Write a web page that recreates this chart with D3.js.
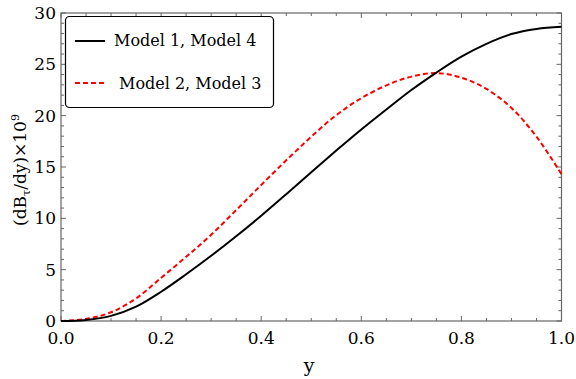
<!DOCTYPE html>
<head>
	<meta charset="utf-8">
	<script type="text/javascript" src="https://cdn.jsdelivr.net/npm/d3@7"></script>
	<style>
		body { margin: 0; background: #fff; }
		text { font-family: "DejaVu Serif", serif; }
	</style>
</head>
<body>
	<script type="text/javascript">

	// values
	var ys = [0, 0.05, 0.1, 0.15, 0.2, 0.25, 0.3, 0.35, 0.4, 0.45, 0.5,
		0.55, 0.6, 0.65, 0.7, 0.75, 0.8, 0.85, 0.9, 0.95, 1.0];
	var model14 = [0, 0.1, 0.5, 1.4, 2.85, 4.55, 6.35, 8.25, 10.25, 12.35, 14.5,
		16.6, 18.65, 20.6, 22.5, 24.2, 25.75, 27.0, 27.95, 28.45, 28.65];
	var model23 = [0, 0.2, 0.85, 2.2, 4.2, 6.25, 8.4, 10.8, 13.25, 15.65, 17.95,
		20.05, 21.7, 22.95, 23.8, 24.15, 23.7, 22.6, 20.75, 17.95, 14.3];
	var xTicks = [0, 0.2, 0.4, 0.6, 0.8, 1.0];
	var yTicks = [0, 5, 10, 15, 20, 25, 30];
	var legendLabels = ["Model 1, Model 4", "Model 2, Model 3"];

	var w = 576;
	var h = 379;
	var pLeft = 61, pRight = 561.5, pTop = 13, pBottom = 321;

	var svg = d3.select("body")
	.append("svg")
	.attr("width", w)
	.attr("height", h);

	var xscale = d3.scaleLinear()
	.domain([0, 1])
	.range([pLeft, pRight]);

	var yscale = d3.scaleLinear()
	.domain([0, 30])
	.range([pBottom, pTop]);

	var frameColor = "#666";

	// ticks: major + minor, on all four sides, pointing in
	var xMinor = d3.range(0, 1.0001, 0.05);
	var yMinor = d3.range(0, 30.001, 1);

	function tickLen(isMajor) { return isMajor ? 5 : 3; }
	function isXMajor(v) { return Math.abs(v * 5 - Math.round(v * 5)) < 1e-6; }
	function isYMajor(v) { return v % 5 === 0; }

	var ticks = svg.append("g").attr("stroke", frameColor).attr("stroke-width", 1);

	ticks.selectAll(".xb").data(xMinor).enter().append("line")
	.attr("x1", function(d){ return xscale(d); })
	.attr("x2", function(d){ return xscale(d); })
	.attr("y1", pBottom)
	.attr("y2", function(d){ return pBottom - tickLen(isXMajor(d)); });

	ticks.selectAll(".xt").data(xMinor).enter().append("line")
	.attr("x1", function(d){ return xscale(d); })
	.attr("x2", function(d){ return xscale(d); })
	.attr("y1", pTop)
	.attr("y2", function(d){ return pTop + tickLen(isXMajor(d)); });

	ticks.selectAll(".yl").data(yMinor).enter().append("line")
	.attr("y1", function(d){ return yscale(d); })
	.attr("y2", function(d){ return yscale(d); })
	.attr("x1", pLeft)
	.attr("x2", function(d){ return pLeft + tickLen(isYMajor(d)); });

	ticks.selectAll(".yr").data(yMinor).enter().append("line")
	.attr("y1", function(d){ return yscale(d); })
	.attr("y2", function(d){ return yscale(d); })
	.attr("x1", pRight)
	.attr("x2", function(d){ return pRight - tickLen(isYMajor(d)); });

	svg.append("rect")
	.attr("x", pLeft)
	.attr("y", pTop)
	.attr("width", pRight - pLeft)
	.attr("height", pBottom - pTop)
	.attr("fill", "none")
	.attr("stroke", frameColor)
	.attr("stroke-width", 1.2);

	// tick labels
	svg.selectAll(".xlab").data(xTicks).enter().append("text")
	.text(function(d){ return d.toFixed(1); })
	.attr("x", function(d){ return xscale(d); })
	.attr("y", 344)
	.attr("text-anchor", "middle")
	.attr("font-size", "17px")
	.attr("fill", "#000");

	svg.selectAll(".ylab").data(yTicks).enter().append("text")
	.text(function(d){ return d; })
	.attr("x", pLeft - 5)
	.attr("y", function(d){ return yscale(d) + 6; })
	.attr("text-anchor", "end")
	.attr("font-size", "17px")
	.attr("fill", "#000");

	// axis titles
	svg.append("text")
	.text("y")
	.attr("x", 309)
	.attr("y", 372)
	.attr("text-anchor", "middle")
	.attr("font-size", "19px");

	var ylab = svg.append("text")
	.attr("transform", "translate(26,170) rotate(-90)")
	.attr("text-anchor", "middle")
	.attr("font-size", "17px");
	ylab.append("tspan").text("(dB");
	ylab.append("tspan").text("τ").attr("font-size", "11px").attr("dy", 4);
	ylab.append("tspan").text("/dy)×10").attr("dy", -4);
	ylab.append("tspan").text("9").attr("font-size", "11px").attr("dy", -7);

	// curves
	var line = d3.line()
	.x(function(d){ return xscale(d[0]); })
	.y(function(d){ return yscale(d[1]); })
	.curve(d3.curveCatmullRom);

	var plot = svg.append("g");

	plot.append("path")
	.attr("d", line(d3.zip(ys, model23)))
	.attr("fill", "none")
	.attr("stroke", "#ff0000")
	.attr("stroke-width", 2)
	.attr("stroke-dasharray", "5,3");

	plot.append("path")
	.attr("d", line(d3.zip(ys, model14)))
	.attr("fill", "none")
	.attr("stroke", "#000")
	.attr("stroke-width", 2);

	// legend
	var legend = svg.append("g");
	legend.append("rect")
	.attr("x", 65.5)
	.attr("y", 16.5)
	.attr("width", 208)
	.attr("height", 91)
	.attr("rx", 4)
	.attr("fill", "#fff")
	.attr("stroke", "#000")
	.attr("stroke-width", 1.2);

	legend.append("line")
	.attr("x1", 75).attr("x2", 105).attr("y1", 41).attr("y2", 41)
	.attr("stroke", "#000").attr("stroke-width", 2);
	legend.append("line")
	.attr("x1", 75).attr("x2", 105).attr("y1", 83).attr("y2", 83)
	.attr("stroke", "#ff0000").attr("stroke-width", 2)
	.attr("stroke-dasharray", "5,3");

	legend.selectAll(".lt").data(legendLabels).enter().append("text")
	.text(function(d){ return d; })
	.attr("x", function(d, i){ return i === 0 ? 114 : 119; })
	.attr("y", function(d, i){ return i === 0 ? 46 : 89; })
	.attr("font-size", "16px");

	</script>
</body>
</html>
